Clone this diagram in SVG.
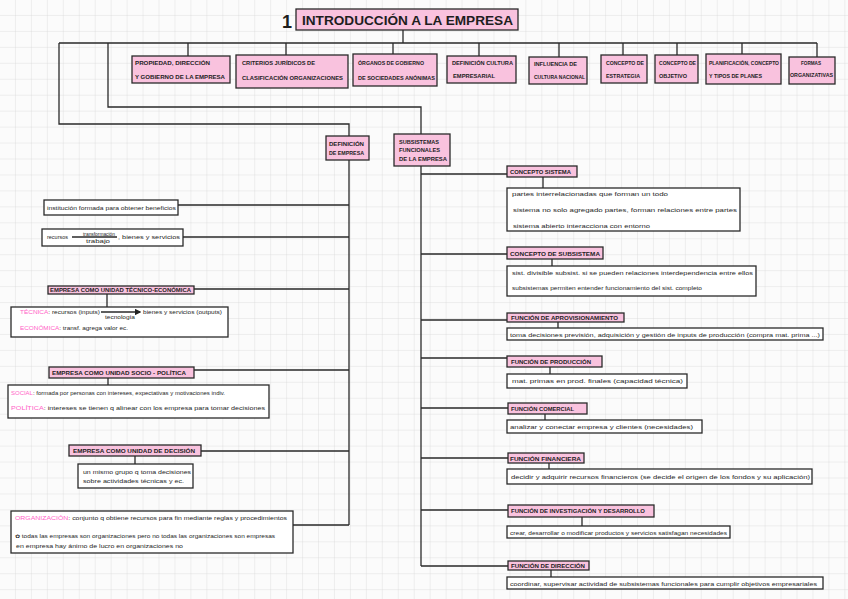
<svg xmlns="http://www.w3.org/2000/svg" width="848" height="599" viewBox="0 0 848 599">
<defs>
<pattern id="grid" width="15.95" height="15.95" patternUnits="userSpaceOnUse">
<path d="M15.95 0V15.95M0 15.95H15.95" fill="none" stroke="#d6d6d6" stroke-width="0.7"/>
</pattern>
<marker id="ar" markerWidth="5" markerHeight="5" refX="4" refY="2.5" orient="auto"><path d="M0 0L5 2.5L0 5z" fill="#222"/></marker>
</defs>
<style>
.box{fill:#fff;stroke:#2a2a2a;stroke-width:1.3}
.pb{fill:#f9c2de;stroke:#2a2a2a;stroke-width:1.3}
.ln{fill:none;stroke:#2a2a2a;stroke-width:1.3}
text{font-family:"Liberation Sans",Arial,sans-serif;fill:#1e1e1e}
.cap{font-size:5px;font-weight:bold}
.hw{font-size:5.2px}
.pk{fill:#ff5fc8}
</style>
<rect width="848" height="599" fill="#fbfbfb"/>
<rect width="848" height="599" fill="url(#grid)"/>

<g id="connectors" class="ln">
<path d="M403 30V43M59 43H817"/>
<path d="M188 43V56M286 43V55M393 43V54M479 43V56M559 43V57M623 43V55M677 43V55M742 43V54M817 43V57"/>
<path d="M59 43V124H349V136"/>
<path d="M108 43V107H421V134"/>
<path d="M349 160V525"/>
<path d="M178 205H349M183 237H349M194 289H349M194 370H349M201 451H349M293 525H349"/>
<path d="M107 294V307M108 378V385M135 456V464"/>
<path d="M421 166V566"/>
<path d="M421 174H507M421 254H507M421 320H507M421 358H507M421 408H508M421 458H508M421 510H508M421 566H508"/>
<path d="M543 177V188M552 259V266M558 322V328M550 367V374M545 414V420M549 463V469M582 517V526M551 570V577"/>
</g>

<g id="title">
<text x="282" y="28" font-size="18" font-weight="bold">1</text>
<rect class="pb" x="296" y="9" width="222" height="21"/>
<text x="302" y="25" font-size="12" font-weight="bold" textLength="211" lengthAdjust="spacingAndGlyphs">INTRODUCCIÓN A LA EMPRESA</text>
</g>

<g id="n-propiedad"><rect class="pb" x="132" y="56" width="98" height="27"/>
<text class="cap" x="135" y="65" textLength="75" lengthAdjust="spacingAndGlyphs">PROPIEDAD, DIRECCIÓN</text>
<text class="cap" x="135" y="79" textLength="90" lengthAdjust="spacingAndGlyphs">Y GOBIERNO DE LA EMPRESA</text></g>
<g id="n-criterios"><rect class="pb" x="236" y="55" width="112" height="33"/>
<text class="cap" x="242" y="65" textLength="73" lengthAdjust="spacingAndGlyphs">CRITERIOS JURÍDICOS DE</text>
<text class="cap" x="242" y="80" textLength="101" lengthAdjust="spacingAndGlyphs">CLASIFICACIÓN ORGANIZACIONES</text></g>
<g id="n-organos"><rect class="pb" x="353" y="54" width="84" height="32"/>
<text class="cap" x="358" y="65" textLength="66" lengthAdjust="spacingAndGlyphs">ÓRGANOS DE GOBIERNO</text>
<text class="cap" x="358" y="80" textLength="77" lengthAdjust="spacingAndGlyphs">DE SOCIEDADES ANÓNIMAS</text></g>
<g id="n-cultura"><rect class="pb" x="447" y="56" width="69" height="27"/>
<text class="cap" x="452" y="65" textLength="61" lengthAdjust="spacingAndGlyphs">DEFINICIÓN CULTURA</text>
<text class="cap" x="453" y="78" textLength="42" lengthAdjust="spacingAndGlyphs">EMPRESARIAL</text></g>
<g id="n-influencia"><rect class="pb" x="529" y="57" width="58" height="27"/>
<text class="cap" x="534" y="66" textLength="43" lengthAdjust="spacingAndGlyphs">INFLUENCIA DE</text>
<text class="cap" x="534" y="79" textLength="51" lengthAdjust="spacingAndGlyphs">CULTURA NACIONAL</text></g>
<g id="n-estrategia"><rect class="pb" x="601" y="55" width="46" height="28"/>
<text class="cap" x="606" y="65" textLength="38" lengthAdjust="spacingAndGlyphs">CONCEPTO DE</text>
<text class="cap" x="606" y="78" textLength="34" lengthAdjust="spacingAndGlyphs">ESTRATEGIA</text></g>
<g id="n-objetivo"><rect class="pb" x="655" y="55" width="43" height="28"/>
<text class="cap" x="659" y="65" textLength="37" lengthAdjust="spacingAndGlyphs">CONCEPTO DE</text>
<text class="cap" x="659" y="78" textLength="28" lengthAdjust="spacingAndGlyphs">OBJETIVO</text></g>
<g id="n-planificacion"><rect class="pb" x="706" y="54" width="75" height="30"/>
<text class="cap" x="709" y="65" textLength="70" lengthAdjust="spacingAndGlyphs">PLANIFICACIÓN, CONCEPTO</text>
<text class="cap" x="709" y="78" textLength="53" lengthAdjust="spacingAndGlyphs">Y TIPOS DE PLANES</text></g>
<g id="n-formas"><rect class="pb" x="789" y="57" width="46" height="27"/>
<text class="cap" x="801" y="65" textLength="20" lengthAdjust="spacingAndGlyphs">FORMAS</text>
<text class="cap" x="790" y="77" textLength="43" lengthAdjust="spacingAndGlyphs">ORGANIZATIVAS</text></g>

<g id="n-definicion"><rect class="pb" x="326" y="136" width="43" height="24"/>
<text class="cap" x="329" y="146" textLength="35" lengthAdjust="spacingAndGlyphs">DEFINICIÓN</text>
<text class="cap" x="329" y="155" textLength="35" lengthAdjust="spacingAndGlyphs">DE EMPRESA</text></g>
<g id="n-subsistemas"><rect class="pb" x="394" y="134" width="56" height="32"/>
<text class="cap" x="399" y="144" textLength="40" lengthAdjust="spacingAndGlyphs">SUBSISTEMAS</text>
<text class="cap" x="399" y="152" textLength="41" lengthAdjust="spacingAndGlyphs">FUNCIONALES</text>
<text class="cap" x="399" y="161" textLength="48" lengthAdjust="spacingAndGlyphs">DE LA EMPRESA</text></g>

<g id="n-institucion"><rect class="box" x="44" y="200" width="134" height="15"/>
<text class="hw" x="47" y="209.5" textLength="129" lengthAdjust="spacingAndGlyphs">institución formada para obtener beneficios</text></g>
<g id="n-recursos"><rect class="box" x="42" y="229" width="141" height="17"/>
<text class="hw" x="47" y="238.5" textLength="21" lengthAdjust="spacingAndGlyphs">recursos</text>
<text class="hw" x="83" y="235.5" font-size="4.3" textLength="32" lengthAdjust="spacingAndGlyphs">transformación</text>
<path class="ln" d="M72 237H117" stroke-width="0.8"/>
<text class="hw" x="86" y="243" font-size="4.3" textLength="24" lengthAdjust="spacingAndGlyphs">trabajo</text>
<text class="hw" x="118" y="238.5" textLength="62" lengthAdjust="spacingAndGlyphs">, bienes y servicios</text></g>

<g id="n-tecnico"><rect class="pb" x="48" y="286" width="146" height="8"/>
<text class="cap" x="50" y="292" font-size="4.6" textLength="141" lengthAdjust="spacingAndGlyphs">EMPRESA COMO UNIDAD TÉCNICO-ECONÓMICA</text></g>
<g id="n-tecnica-txt"><rect class="box" x="11" y="307" width="217" height="30"/>
<text class="hw" x="20" y="314" textLength="80" lengthAdjust="spacingAndGlyphs"><tspan class="pk">TÉCNICA</tspan>: recursos (inputs)</text>
<path class="ln" d="M101 312H140" stroke-width="0.7" marker-end="url(#ar)"/>
<text class="hw" x="105" y="318.5" font-size="4.3" textLength="30" lengthAdjust="spacingAndGlyphs">tecnología</text>
<text class="hw" x="143" y="314" textLength="79" lengthAdjust="spacingAndGlyphs">bienes y servicios (outputs)</text>
<text class="hw" x="20" y="330" textLength="108" lengthAdjust="spacingAndGlyphs"><tspan class="pk">ECONÓMICA</tspan>: transf. agrega valor ec.</text></g>

<g id="n-socio"><rect class="pb" x="49" y="367" width="145" height="11"/>
<text class="cap" x="52" y="374.5" textLength="134" lengthAdjust="spacingAndGlyphs">EMPRESA COMO UNIDAD  SOCIO - POLÍTICA</text></g>
<g id="n-socio-txt"><rect class="box" x="8" y="385" width="261" height="33"/>
<text class="hw" x="11" y="395" textLength="214" lengthAdjust="spacingAndGlyphs"><tspan class="pk">SOCIAL</tspan>: formada por personas con intereses, expectativas y motivaciones indiv.</text>
<text class="hw" x="11" y="410" textLength="254" lengthAdjust="spacingAndGlyphs"><tspan class="pk">POLÍTICA</tspan>: intereses se tienen q alinear con los empresa para tomar decisiones</text></g>

<g id="n-decision"><rect class="pb" x="69" y="445" width="132" height="11"/>
<text class="cap" x="73" y="453" textLength="122" lengthAdjust="spacingAndGlyphs">EMPRESA COMO UNIDAD DE DECISIÓN</text></g>
<g id="n-decision-txt"><rect class="box" x="78" y="464" width="115" height="24"/>
<text class="hw" x="83" y="473.5" textLength="108" lengthAdjust="spacingAndGlyphs">un mismo grupo q toma decisiones</text>
<text class="hw" x="83" y="483" textLength="101" lengthAdjust="spacingAndGlyphs">sobre actividades técnicas y ec.</text></g>

<g id="n-organizacion"><rect class="box" x="11" y="511" width="282" height="42"/>
<text class="hw" x="15" y="519.5" textLength="272" lengthAdjust="spacingAndGlyphs"><tspan class="pk">ORGANIZACIÓN</tspan>: conjunto q obtiene recursos para fin mediante reglas y procedimientos</text>
<text class="hw" x="15" y="538" textLength="260" lengthAdjust="spacingAndGlyphs">✿ todas las empresas son organizaciones pero no todas las organizaciones son empresas</text>
<text class="hw" x="16" y="547.5" textLength="167" lengthAdjust="spacingAndGlyphs">en empresa hay ánimo de lucro  en organizaciones no</text></g>

<g id="n-sistema"><rect class="pb" x="507" y="166" width="70" height="11"/>
<text class="cap" x="510" y="174" textLength="61" lengthAdjust="spacingAndGlyphs">CONCEPTO SISTEMA</text></g>
<g id="n-sistema-txt"><rect class="box" x="507" y="188" width="233" height="43"/>
<text class="hw" x="512" y="196" textLength="156" lengthAdjust="spacingAndGlyphs">partes  interrelacionadas que forman un todo</text>
<text class="hw" x="513" y="212" textLength="224" lengthAdjust="spacingAndGlyphs">sistema no solo agregado partes, forman relaciones entre partes</text>
<text class="hw" x="513" y="227.5" textLength="137" lengthAdjust="spacingAndGlyphs">sistema abierto interacciona con entorno</text></g>

<g id="n-subsistema"><rect class="pb" x="507" y="247" width="96" height="12"/>
<text class="cap" x="510" y="255.5" textLength="90" lengthAdjust="spacingAndGlyphs">CONCEPTO DE SUBSISTEMA</text></g>
<g id="n-subsistema-txt"><rect class="box" x="507" y="266" width="249" height="30"/>
<text class="hw" x="512" y="275" textLength="241" lengthAdjust="spacingAndGlyphs">sist. divisible subsist. si se pueden relaciones interdependencia entre ellos</text>
<text class="hw" x="512" y="290" textLength="190" lengthAdjust="spacingAndGlyphs">subsistemas permiten entender funcionamiento del sist. completo</text></g>

<g id="n-aprov"><rect class="pb" x="507" y="313" width="117" height="9"/>
<text class="cap" x="511" y="320" textLength="107" lengthAdjust="spacingAndGlyphs">FUNCIÓN DE APROVISIONAMIENTO</text></g>
<g id="n-aprov-txt"><rect class="box" x="507" y="328" width="316" height="12"/>
<text class="hw" x="510" y="336.5" textLength="310" lengthAdjust="spacingAndGlyphs">toma decisiones previsión, adquisición y gestión de inputs de producción (compra mat. prima ...)</text></g>

<g id="n-produccion"><rect class="pb" x="507" y="356" width="95" height="11"/>
<text class="cap" x="511" y="363.5" textLength="80" lengthAdjust="spacingAndGlyphs">FUNCIÓN DE PRODUCCIÓN</text></g>
<g id="n-produccion-txt"><rect class="box" x="507" y="374" width="180" height="14"/>
<text class="hw" x="512" y="383" textLength="171" lengthAdjust="spacingAndGlyphs">mat. primas en prod. finales (capacidad técnica)</text></g>

<g id="n-comercial"><rect class="pb" x="508" y="403" width="79" height="11"/>
<text class="cap" x="511" y="410.5" textLength="63" lengthAdjust="spacingAndGlyphs">FUNCIÓN COMERCIAL</text></g>
<g id="n-comercial-txt"><rect class="box" x="507" y="420" width="195" height="13"/>
<text class="hw" x="510" y="428.5" textLength="183" lengthAdjust="spacingAndGlyphs">analizar y conectar empresa y clientes (necesidades)</text></g>

<g id="n-financiera"><rect class="pb" x="508" y="453" width="76" height="10"/>
<text class="cap" x="510" y="460.5" textLength="71" lengthAdjust="spacingAndGlyphs">FUNCIÓN FINANCIERA</text></g>
<g id="n-financiera-txt"><rect class="box" x="507" y="469" width="305" height="15"/>
<text class="hw" x="511" y="478.5" textLength="299" lengthAdjust="spacingAndGlyphs">decidir y adquirir recursos financieros  (se decide el origen de los fondos y su aplicación)</text></g>

<g id="n-id"><rect class="pb" x="508" y="505" width="146" height="12"/>
<text class="cap" x="511" y="513" textLength="134" lengthAdjust="spacingAndGlyphs">FUNCIÓN DE INVESTIGACIÓN Y DESARROLLO</text></g>
<g id="n-id-txt"><rect class="box" x="507" y="526" width="223" height="12"/>
<text class="hw" x="510" y="534.5" textLength="217" lengthAdjust="spacingAndGlyphs">crear, desarrollar o modificar productos y servicios satisfagan necesidades</text></g>

<g id="n-direccion"><rect class="pb" x="508" y="561" width="81" height="9"/>
<text class="cap" x="511" y="567.8" textLength="74" lengthAdjust="spacingAndGlyphs">FUNCIÓN DE DIRECCIÓN</text></g>
<g id="n-direccion-txt"><rect class="box" x="507" y="577" width="316" height="12"/>
<text class="hw" x="510" y="585.5" textLength="307" lengthAdjust="spacingAndGlyphs">coordinar, supervisar actividad de subsistemas funcionales para cumplir objetivos empresariales</text></g>
</svg>
